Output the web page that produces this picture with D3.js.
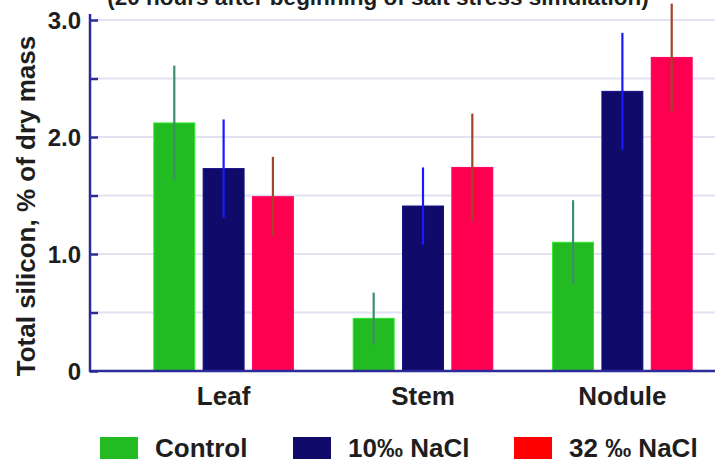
<!DOCTYPE html>
<html>
<head>
<meta charset="utf-8">
<script src="https://cdn.jsdelivr.net/npm/d3@7"></script>
<style>
  html, body { margin: 0; padding: 0; background: #fff; }
  svg { display: block; }
  text { font-family: "Liberation Sans", Arial, sans-serif; font-weight: bold; fill: #1e1e1e; }
</style>
</head>
<body>
<svg id="chart" width="715" height="466"></svg>
<script>
// Plant organs along the x axis
const organs = ["Leaf", "Stem", "Nodule"];
// Treatments, one bar each per organ
const treatments = ["Control", "10‰ NaCl", "32 ‰ NaCl"];
// Mean total silicon (% of dry mass) per treatment, ordered as organs
const controlMean = [2.12, 0.45, 1.10];
const naCl10Mean  = [1.73, 1.41, 2.39];
const naCl32Mean  = [1.49, 1.74, 2.68];
// Error (± half range) per treatment, ordered as organs
const controlErr = [0.49, 0.22, 0.36];
const naCl10Err  = [0.42, 0.33, 0.50];
const naCl32Err  = [0.34, 0.46, 0.46];
// Y axis ticks
const majorTicks = [0, 1, 2, 3];
const gridTicks = [0.5, 1, 1.5, 2, 2.5, 3];

const means = [controlMean, naCl10Mean, naCl32Mean];
const errs = [controlErr, naCl10Err, naCl32Err];
const barColors = ["#22bb22", "#100a6a", "#ff0050"];
const errColors = ["#3c8f6a", "#1a1aff", "#a2442a"];
const legendColors = ["#22bb22", "#100a6a", "#ff0000"];
const axisColor = "#2b2b99";

const svg = d3.select("#chart");
const W = 715, H = 466;
const axisX = 90;

const y = d3.scaleLinear().domain([0, 3]).range([371, 20]);
const x0 = d3.scaleBand().domain(organs).range([94, 752])
  .paddingInner(0.3).paddingOuter(0.3);
const x1 = d3.scaleBand().domain(treatments).range([0, x0.bandwidth()])
  .paddingInner(0.17);

// Title line above the plot
svg.append("text")
  .attr("x", 378).attr("y", 5)
  .attr("text-anchor", "middle")
  .style("font-size", "22.5px")
  .text("(20 hours after beginning of salt stress simulation)");

// Horizontal gridlines
svg.append("g").selectAll("line").data(gridTicks).join("line")
  .attr("x1", axisX + 6).attr("x2", W)
  .attr("y1", d => y(d)).attr("y2", d => y(d))
  .attr("stroke", "#e2e2f2").attr("stroke-width", 2);

// Bars
const rows = organs.flatMap((o, i) => treatments.map((t, j) => ({
  organ: o, t, j, v: means[j][i], e: errs[j][i]
})));

const g = svg.append("g");
g.selectAll("rect").data(rows).join("rect")
  .attr("x", d => x0(d.organ) + x1(d.t))
  .attr("width", x1.bandwidth())
  .attr("y", d => y(d.v))
  .attr("height", d => y(0) - y(d.v))
  .attr("fill", d => barColors[d.j])
  .attr("stroke", d => d3.color(barColors[d.j]).brighter(0.6))
  .attr("stroke-width", 1);

// Error bars (vertical lines, no caps)
g.selectAll("line.err").data(rows).join("line")
  .attr("class", "err")
  .attr("x1", d => x0(d.organ) + x1(d.t) + x1.bandwidth() / 2)
  .attr("x2", d => x0(d.organ) + x1(d.t) + x1.bandwidth() / 2)
  .attr("y1", d => y(d.v + d.e))
  .attr("y2", d => y(d.v - d.e))
  .attr("stroke", d => errColors[d.j])
  .attr("stroke-width", 2.2);

// Y axis with inward ticks
const yAxis = d3.axisRight(y).tickValues(gridTicks.concat([0]))
  .tickSize(8).tickFormat("");
const yg = svg.append("g").attr("transform", `translate(${axisX},0)`).call(yAxis);
yg.select(".domain").remove();
yg.selectAll("line").attr("stroke", axisColor).attr("stroke-width", 2.5);
svg.append("line")
  .attr("x1", axisX).attr("x2", axisX)
  .attr("y1", y(3) - 6).attr("y2", y(0) + 1)
  .attr("stroke", axisColor).attr("stroke-width", 2.5);

// Y tick labels
svg.append("g").selectAll("text").data(majorTicks).join("text")
  .attr("x", 81).attr("y", d => y(d))
  .attr("dy", "0.36em")
  .attr("text-anchor", "end")
  .style("font-size", "24px")
  .text(d => d === 0 ? "0" : d3.format(".1f")(d));

// X axis
const xAxis = d3.axisBottom(x0).tickSize(0).tickPadding(16);
const xg = svg.append("g").attr("transform", `translate(0,${y(0)})`).call(xAxis);
xg.select(".domain").remove();
xg.selectAll("text")
  .style("font-size", "26px").style("font-family", null).attr("fill", "#1e1e1e");
svg.append("line")
  .attr("x1", axisX - 1).attr("x2", W)
  .attr("y1", y(0)).attr("y2", y(0))
  .attr("stroke", axisColor).attr("stroke-width", 2.5);

// Y axis title
svg.append("text")
  .attr("transform", "translate(35,206) rotate(-90)")
  .attr("text-anchor", "middle")
  .style("font-size", "26px")
  .text("Total silicon, % of dry mass");

// Legend
const legendX = [100, 293, 514];
const lg = svg.append("g").selectAll("g").data(treatments).join("g")
  .attr("transform", (d, i) => `translate(${legendX[i]},437)`);
lg.append("rect")
  .attr("width", 38).attr("height", 22)
  .attr("fill", (d, i) => legendColors[i]);
lg.append("text")
  .attr("x", 55).attr("y", 20)
  .style("font-size", "26px")
  .text(d => d);
</script>
</body>
</html>
